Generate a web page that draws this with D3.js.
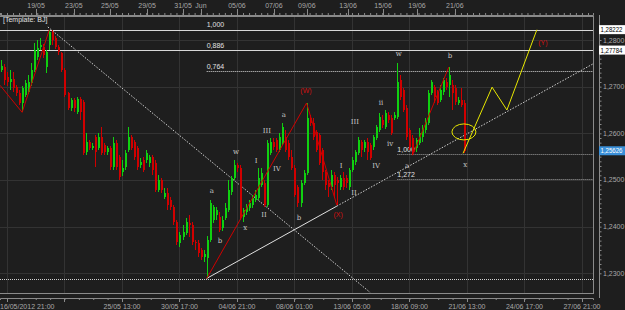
<!DOCTYPE html>
<html>
<head>
<meta charset="utf-8">
<script src="https://cdn.jsdelivr.net/npm/d3@7"></script>
<style>
  body { margin: 0; background: #1e1e1e; }
  svg { display: block; font-family: "Liberation Sans", Arial, sans-serif; }
</style>
</head>
<body>
<div id="chart"></div>
<script>
// H4 candles, [open, high, low, close]
var candles = [
  [1.2736,1.2757,1.2731,1.2744],[1.2742,1.2749,1.2703,1.2714],[1.2721,1.2731,1.2701,1.2710],[1.2710,1.2736,1.2693,1.2716],
  [1.2716,1.2731,1.2688,1.2697],[1.2699,1.2703,1.2680,1.2686],[1.2686,1.2693,1.2661,1.2665],[1.2665,1.2701,1.2645,1.2697],
  [1.2682,1.2714,1.2678,1.2708],[1.2688,1.2725,1.2684,1.2710],[1.2708,1.2751,1.2701,1.2736],[1.2736,1.2794,1.2731,1.2779],
  [1.2764,1.2800,1.2757,1.2783],[1.2785,1.2804,1.2779,1.2789],[1.2785,1.2791,1.2761,1.2768],[1.2742,1.2779,1.2729,1.2774],
  [1.2789,1.2822,1.2779,1.2817],[1.2817,1.2821,1.2789,1.2800],[1.2804,1.2809,1.2781,1.2785],[1.2785,1.2789,1.2768,1.2774],
  [1.2772,1.2774,1.2731,1.2736],[1.2736,1.2740,1.2678,1.2682],[1.2686,1.2688,1.2650,1.2654],[1.2654,1.2676,1.2648,1.2671],
  [1.2671,1.2676,1.2645,1.2654],[1.2645,1.2678,1.2641,1.2673],[1.2673,1.2678,1.2628,1.2645],[1.2667,1.2671,1.2553,1.2557],
  [1.2560,1.2600,1.2553,1.2581],[1.2581,1.2585,1.2564,1.2568],[1.2568,1.2579,1.2564,1.2573],[1.2592,1.2596,1.2527,1.2560],
  [1.2568,1.2600,1.2564,1.2592],[1.2592,1.2613,1.2553,1.2557],[1.2575,1.2579,1.2553,1.2560],[1.2560,1.2573,1.2553,1.2568],
  [1.2568,1.2573,1.2521,1.2527],[1.2527,1.2592,1.2521,1.2579],[1.2579,1.2585,1.2521,1.2527],[1.2549,1.2553,1.2500,1.2506],
  [1.2517,1.2542,1.2508,1.2525],[1.2527,1.2564,1.2521,1.2557],[1.2564,1.2613,1.2560,1.2592],[1.2592,1.2596,1.2564,1.2568],
  [1.2581,1.2585,1.2542,1.2549],[1.2568,1.2573,1.2521,1.2527],[1.2532,1.2547,1.2525,1.2538],[1.2542,1.2549,1.2517,1.2521],
  [1.2542,1.2564,1.2536,1.2557],[1.2536,1.2553,1.2527,1.2549],[1.2549,1.2553,1.2510,1.2521],[1.2536,1.2542,1.2474,1.2478],
  [1.2478,1.2510,1.2474,1.2500],[1.2500,1.2504,1.2472,1.2478],[1.2463,1.2482,1.2459,1.2472],[1.2472,1.2482,1.2435,1.2446],
  [1.2457,1.2463,1.2435,1.2442],[1.2442,1.2446,1.2403,1.2409],[1.2409,1.2414,1.2360,1.2367],[1.2364,1.2388,1.2356,1.2382],
  [1.2377,1.2403,1.2371,1.2388],[1.2386,1.2418,1.2382,1.2409],[1.2407,1.2424,1.2377,1.2403],[1.2403,1.2409,1.2360,1.2367],
  [1.2367,1.2371,1.2349,1.2364],[1.2364,1.2371,1.2334,1.2343],[1.2349,1.2354,1.2328,1.2334],[1.2334,1.2349,1.2324,1.2341],
  [1.2332,1.2379,1.2289,1.2371],[1.2371,1.2457,1.2367,1.2450],[1.2414,1.2446,1.2407,1.2442],[1.2424,1.2442,1.2414,1.2435],
  [1.2420,1.2431,1.2388,1.2392],[1.2397,1.2422,1.2390,1.2414],[1.2418,1.2450,1.2414,1.2439],[1.2435,1.2500,1.2431,1.2478],
  [1.2474,1.2508,1.2467,1.2504],[1.2504,1.2542,1.2500,1.2532],[1.2532,1.2536,1.2517,1.2525],[1.2525,1.2532,1.2414,1.2420],
  [1.2420,1.2439,1.2409,1.2435],[1.2431,1.2448,1.2424,1.2442],[1.2439,1.2457,1.2433,1.2450],[1.2446,1.2467,1.2439,1.2461],
  [1.2457,1.2478,1.2452,1.2467],[1.2461,1.2525,1.2457,1.2504],[1.2489,1.2525,1.2485,1.2515],[1.2493,1.2500,1.2442,1.2446],
  [1.2446,1.2585,1.2442,1.2579],[1.2557,1.2590,1.2553,1.2581],[1.2581,1.2590,1.2564,1.2570],[1.2585,1.2590,1.2560,1.2564],
  [1.2564,1.2600,1.2560,1.2592],[1.2579,1.2622,1.2575,1.2613],[1.2592,1.2607,1.2560,1.2564],[1.2579,1.2585,1.2542,1.2549],
  [1.2549,1.2564,1.2521,1.2525],[1.2525,1.2532,1.2463,1.2467],[1.2485,1.2489,1.2442,1.2450],[1.2450,1.2500,1.2442,1.2493],
  [1.2493,1.2521,1.2489,1.2515],[1.2515,1.2665,1.2510,1.2633],[1.2633,1.2639,1.2615,1.2622],[1.2622,1.2633,1.2585,1.2592],
  [1.2603,1.2607,1.2560,1.2564],[1.2596,1.2600,1.2532,1.2536],[1.2564,1.2568,1.2500,1.2517],[1.2517,1.2521,1.2478,1.2489],
  [1.2493,1.2500,1.2463,1.2485],[1.2485,1.2521,1.2478,1.2510],[1.2510,1.2517,1.2461,1.2489],[1.2500,1.2506,1.2446,1.2493],
  [1.2485,1.2510,1.2478,1.2504],[1.2504,1.2517,1.2478,1.2485],[1.2504,1.2510,1.2482,1.2493],[1.2485,1.2525,1.2478,1.2521],
  [1.2521,1.2549,1.2517,1.2542],[1.2538,1.2564,1.2532,1.2560],[1.2557,1.2592,1.2553,1.2585],[1.2581,1.2585,1.2549,1.2564],
  [1.2568,1.2585,1.2560,1.2581],[1.2581,1.2590,1.2542,1.2560],[1.2575,1.2579,1.2542,1.2547],[1.2570,1.2596,1.2564,1.2592],
  [1.2590,1.2618,1.2585,1.2613],[1.2607,1.2643,1.2603,1.2635],[1.2628,1.2639,1.2611,1.2618],[1.2613,1.2650,1.2609,1.2643],
  [1.2639,1.2645,1.2622,1.2628],[1.2633,1.2639,1.2596,1.2600],[1.2633,1.2645,1.2628,1.2639],[1.2635,1.2751,1.2630,1.2710],
  [1.2714,1.2725,1.2671,1.2678],[1.2693,1.2697,1.2645,1.2650],[1.2654,1.2661,1.2585,1.2592],[1.2607,1.2611,1.2564,1.2570],
  [1.2590,1.2596,1.2553,1.2557],[1.2568,1.2590,1.2560,1.2585],[1.2579,1.2611,1.2575,1.2600],[1.2592,1.2618,1.2581,1.2611],
  [1.2607,1.2633,1.2600,1.2624],[1.2622,1.2693,1.2618,1.2686],[1.2686,1.2714,1.2682,1.2710],[1.2699,1.2703,1.2665,1.2678],
  [1.2688,1.2693,1.2661,1.2665],[1.2671,1.2703,1.2667,1.2693],[1.2688,1.2718,1.2682,1.2714],[1.2710,1.2718,1.2693,1.2699],
  [1.2703,1.2742,1.2678,1.2725],[1.2703,1.2714,1.2650,1.2686],[1.2697,1.2703,1.2661,1.2667],[1.2665,1.2678,1.2661,1.2671],
  [1.2671,1.2697,1.2656,1.2661],[1.2665,1.2671,1.2557,1.2563]
];

var priceTicks = [1.23, 1.24, 1.25, 1.26, 1.27, 1.28];
var gridBars = [2, 21, 40, 59, 78, 97, 116, 135, 154, 173, 192];
var bottomBars = [2, 40, 59, 78, 97, 116, 135, 154, 173, 192];
var bottomLabels = ["16/05/2012 21:00", "25/05 13:00", "30/05 17:00", "04/06 21:00", "08/06 01:00",
  "13/06 05:00", "18/06 09:00", "21/06 13:00", "24/06 17:00", "27/06 21:00"];
var topBars = [11.6, 24.1, 36.0, 48.3, 60.2, 66.1, 78.0, 90.2, 101.1, 114.7, 126.3, 137.5, 150.0];
var topLabels = ["19/05", "23/05", "25/05", "29/05", "31/05", "Jun", "05/06", "07/06", "09/06",
  "13/06", "15/06", "19/06", "21/06"];

var fibPrices = [1.28222, 1.27784, 1.27335];
var fibNames = ["1,000", "0,886", "0,764"];
var extPrices = [1.25547, 1.25017];
var extNames = ["1,000", "1,272"];
var lowPrice = 1.2287;
var markPrices = [1.28222, 1.27784, 1.25626];

var waveA = [[-0.3, 1.2703], [7, 1.2645], [16, 1.2822]];
var waveB = [[68, 1.2289], [101, 1.2665], [111, 1.2446]];
var waveC = [[136, 1.2553], [148, 1.2742]];
var projection = [[152.7, 1.2557], [162.3, 1.2699], [167.2, 1.2650], [177.1, 1.2822]];
var downTrend = [[15.5, 1.2828], [122, 1.2259]];
var upTrend = [[68, 1.2289], [111, 1.2444], [195.7, 1.2749]];
var circleAt = [153, 1.2603];

var waveLabels = [
  ["a", 69.7, 1.2478], ["b", 72.4, 1.2371], ["w", 77.7, 1.2560], ["x", 80.7, 1.2399],
  ["I", 84.3, 1.2542], ["III", 87.9, 1.2605], ["IV", 91.2, 1.2525], ["II", 86.9, 1.2427],
  ["a", 93.5, 1.2641], ["b", 98.5, 1.2420], ["I", 112.4, 1.2530], ["II", 116.7, 1.2474],
  ["III", 117, 1.2626], ["IV", 124, 1.2530], ["ii", 125.6, 1.2665], ["iv", 128.6, 1.2579],
  ["w", 131.5, 1.2770], ["a", 134.2, 1.2532], ["b", 148.4, 1.2766], ["x", 153.4, 1.2534]
];
var degreeLabels = [["(W)", 100.8, 1.2691], ["(X)", 111.4, 1.2427], ["(Y)", 179.1, 1.2794]];

var W = 625, H = 310;
var plot = { left: 0, right: 593, top: 16, bottom: 293 };

var x = d3.scaleLinear().domain([-0.31, 195.65]).range([0, 593]);
var y = d3.scaleLinear().domain([1.23, 1.28]).range([273.3, 40]);

var svg = d3.select('#chart').append('svg')
  .attr('width', W).attr('height', H);

svg.append('rect').attr('width', W).attr('height', H).attr('fill', '#1e1e1e');

svg.append('defs').append('clipPath').attr('id', 'clip')
  .append('rect')
  .attr('x', plot.left).attr('y', plot.top)
  .attr('width', plot.right - plot.left).attr('height', plot.bottom - plot.top);

var gridLayer = svg.append('g').attr('clip-path', 'url(#clip)');
var levelLayer = svg.append('g').attr('clip-path', 'url(#clip)');
var candleLayer = svg.append('g').attr('clip-path', 'url(#clip)');
var drawLayer = svg.append('g').attr('clip-path', 'url(#clip)');
var axisLayer = svg.append('g');

// grid
gridLayer.selectAll('line.v').data(gridBars)
  .enter().append('line')
  .attr('x1', function(d) { return Math.round(x(d)) + 0.5; })
  .attr('x2', function(d) { return Math.round(x(d)) + 0.5; })
  .attr('y1', plot.top).attr('y2', plot.bottom)
  .attr('stroke', '#333333');
gridLayer.selectAll('line.h').data(priceTicks)
  .enter().append('line')
  .attr('x1', plot.left).attr('x2', plot.right)
  .attr('y1', function(d) { return Math.round(y(d)) + 0.5; })
  .attr('y2', function(d) { return Math.round(y(d)) + 0.5; })
  .attr('stroke', '#333333');

// fibonacci levels
levelLayer.selectAll('line.fib').data(fibPrices)
  .enter().append('line')
  .attr('x1', function(d, i) { return i < 2 ? plot.left : x(68); })
  .attr('x2', plot.right)
  .attr('y1', function(d) { return Math.round(y(d)) + 0.5; })
  .attr('y2', function(d) { return Math.round(y(d)) + 0.5; })
  .attr('stroke', '#d8d8d8')
  .attr('stroke-dasharray', function(d, i) { return i < 2 ? null : '1,1'; });
levelLayer.selectAll('text.fib').data(fibPrices)
  .enter().append('text')
  .attr('x', x(68))
  .attr('y', function(d) { return y(d) - 2.5; })
  .attr('fill', '#e0e0e0').attr('font-size', 7)
  .text(function(d, i) { return fibNames[i]; });

levelLayer.selectAll('line.ext').data(extPrices)
  .enter().append('line')
  .attr('x1', x(131)).attr('x2', plot.right)
  .attr('y1', function(d) { return Math.round(y(d)) + 0.5; })
  .attr('y2', function(d) { return Math.round(y(d)) + 0.5; })
  .attr('stroke', '#a0a0a0').attr('stroke-dasharray', '1,1');
levelLayer.selectAll('text.ext').data(extPrices)
  .enter().append('text')
  .attr('x', x(131))
  .attr('y', function(d) { return y(d) - 2; })
  .attr('fill', '#e0e0e0').attr('font-size', 7)
  .text(function(d, i) { return extNames[i]; });

levelLayer.append('line')
  .attr('x1', plot.left).attr('x2', plot.right)
  .attr('y1', Math.round(y(lowPrice)) + 0.5).attr('y2', Math.round(y(lowPrice)) + 0.5)
  .attr('stroke', '#d0d0d0').attr('stroke-dasharray', '1,1');

var line = d3.line()
  .x(function(d) { return x(d[0]); })
  .y(function(d) { return y(d[1]); });

// trend lines
levelLayer.append('path').datum(downTrend)
  .attr('d', line).attr('fill', 'none')
  .attr('stroke', '#d0d0d0').attr('stroke-dasharray', '1.5,1.5');
levelLayer.append('path').datum(upTrend.slice(0, 2))
  .attr('d', line).attr('fill', 'none').attr('stroke', '#e0e0e0');
levelLayer.append('path').datum(upTrend.slice(1))
  .attr('d', line).attr('fill', 'none')
  .attr('stroke', '#d0d0d0').attr('stroke-dasharray', '1.5,1.5');

// candles
var bars = candleLayer.selectAll('g.bar').data(candles)
  .enter().append('g')
  .attr('class', 'bar')
  .attr('shape-rendering', 'crispEdges');
bars.append('line')
  .attr('x1', function(d, i) { return Math.round(x(i)) + 0.5; })
  .attr('x2', function(d, i) { return Math.round(x(i)) + 0.5; })
  .attr('y1', function(d) { return y(d[1]); })
  .attr('y2', function(d) { return y(d[2]); })
  .attr('stroke', function(d) { return d[3] >= d[0] ? '#10d010' : '#d00000'; });
bars.append('rect')
  .attr('x', function(d, i) { return Math.round(x(i)) - 0.5; })
  .attr('width', 2)
  .attr('y', function(d) { return y(Math.max(d[0], d[3])); })
  .attr('height', function(d) { return Math.max(1, Math.abs(y(d[0]) - y(d[3]))); })
  .attr('fill', function(d) { return d[3] >= d[0] ? '#10d010' : '#d00000'; });

// elliott wave lines
[waveA, waveB, waveC].forEach(function(w) {
  drawLayer.append('path').datum(w)
    .attr('d', line).attr('fill', 'none').attr('stroke', '#d00000');
});
drawLayer.append('path').datum(projection)
  .attr('d', line).attr('fill', 'none').attr('stroke', '#e8e800');
drawLayer.append('ellipse')
  .attr('cx', x(circleAt[0])).attr('cy', y(circleAt[1]))
  .attr('rx', 12).attr('ry', 8)
  .attr('fill', 'none').attr('stroke', '#e8e800');

drawLayer.selectAll('text.wave').data(waveLabels)
  .enter().append('text')
  .attr('x', function(d) { return x(d[1]); })
  .attr('y', function(d) { return y(d[2]) + 2.5; })
  .attr('text-anchor', 'middle')
  .attr('font-family', '"DejaVu Serif", serif')
  .attr('font-size', 7).attr('fill', '#c8c8c8')
  .text(function(d) { return d[0]; });
drawLayer.selectAll('text.degree').data(degreeLabels)
  .enter().append('text')
  .attr('x', function(d) { return x(d[1]); })
  .attr('y', function(d) { return y(d[2]) + 2.5; })
  .attr('text-anchor', 'middle')
  .attr('font-size', 7).attr('fill', '#d01010')
  .text(function(d) { return d[0]; });

drawLayer.append('text')
  .attr('x', 3).attr('y', 22)
  .attr('font-size', 7).attr('fill', '#e0e0e0')
  .text('[Template: BJ]');

// frame
axisLayer.append('rect')
  .attr('x', plot.left - 1).attr('y', plot.top + 0.5)
  .attr('width', plot.right - plot.left + 1.5).attr('height', plot.bottom - plot.top)
  .attr('fill', 'none').attr('stroke', '#8a8a8a');

// top axis
var topAxis = d3.axisTop(x).tickValues(d3.range(0, 196, 2)).tickSize(2).tickFormat('');
axisLayer.append('g').attr('transform', 'translate(0,15)').call(topAxis)
  .call(function(g) { g.select('.domain').attr('stroke', '#8a8a8a'); g.selectAll('line').attr('stroke', '#8a8a8a'); });
axisLayer.selectAll('line.topmajor').data(topBars)
  .enter().append('line')
  .attr('x1', function(d) { return Math.round(x(d)) + 0.5; })
  .attr('x2', function(d) { return Math.round(x(d)) + 0.5; })
  .attr('y1', 9).attr('y2', 15).attr('stroke', '#8a8a8a');
axisLayer.selectAll('text.top').data(topBars)
  .enter().append('text')
  .attr('x', function(d) { return x(d); })
  .attr('y', 8)
  .attr('text-anchor', 'middle')
  .attr('font-size', 7).attr('fill', '#a8a8a8')
  .text(function(d, i) { return topLabels[i]; });

// bottom axis
var bottomAxis = d3.axisBottom(x).tickValues(d3.range(2, 196, 4.75)).tickSize(2).tickFormat('');
axisLayer.append('g').attr('transform', 'translate(0,298)').call(bottomAxis)
  .call(function(g) { g.select('.domain').attr('stroke', '#8a8a8a'); g.selectAll('line').attr('stroke', '#8a8a8a'); });
axisLayer.selectAll('line.botmajor').data(gridBars)
  .enter().append('line')
  .attr('x1', function(d) { return Math.round(x(d)) + 0.5; })
  .attr('x2', function(d) { return Math.round(x(d)) + 0.5; })
  .attr('y1', 298).attr('y2', 302).attr('stroke', '#8a8a8a');
axisLayer.selectAll('text.bottom').data(bottomBars)
  .enter().append('text')
  .attr('x', function(d, i) { return i === 0 ? 0 : x(d); })
  .attr('y', 309)
  .attr('text-anchor', function(d, i) { return i === 0 ? 'start' : 'middle'; })
  .attr('font-size', 7).attr('fill', '#a8a8a8')
  .text(function(d, i) { return bottomLabels[i]; });

// right axis
var rightAxis = d3.axisRight(y).ticks(40).tickSize(2).tickFormat('');
axisLayer.append('g').attr('transform', 'translate(599.5,0)').call(rightAxis)
  .call(function(g) { g.select('.domain').remove(); g.selectAll('line').attr('stroke', '#8a8a8a'); });
axisLayer.append('line')
  .attr('x1', 599.5).attr('x2', 599.5).attr('y1', 15).attr('y2', 298)
  .attr('stroke', '#8a8a8a');
axisLayer.selectAll('text.price').data(priceTicks)
  .enter().append('text')
  .attr('x', 603).attr('y', function(d) { return y(d) + 2.5; })
  .attr('font-size', 7).attr('fill', '#a8a8a8')
  .text(function(d) { return d3.format('.4f')(d).replace('.', ','); });

var marks = axisLayer.selectAll('g.mark').data(markPrices)
  .enter().append('g')
  .attr('transform', function(d) { return 'translate(599,' + y(d) + ')'; });
marks.append('rect')
  .attr('x', 0).attr('y', -4.5).attr('width', 26).attr('height', 9)
  .attr('fill', function(d, i) { return i === 2 ? '#3a8fd8' : '#ffffff'; });
marks.append('text')
  .attr('x', 1.5).attr('y', 2.5)
  .attr('font-size', 6.5)
  .attr('textLength', 22).attr('lengthAdjust', 'spacingAndGlyphs')
  .attr('fill', function(d, i) { return i === 2 ? '#ffffff' : '#000000'; })
  .text(function(d) { return d3.format('.5f')(d).replace('.', ','); });
</script>
</body>
</html>
